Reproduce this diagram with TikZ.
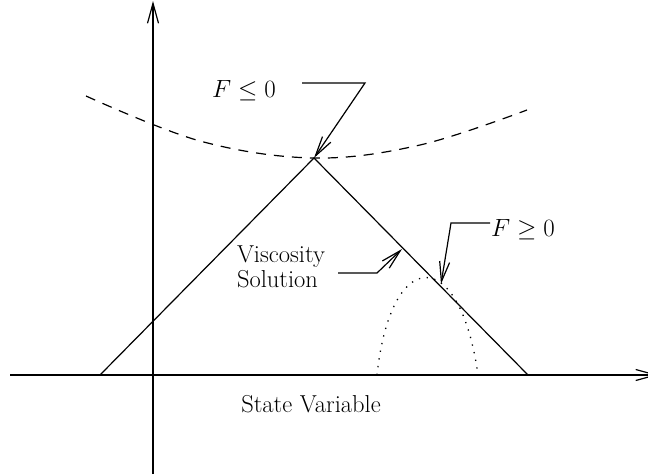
\documentclass[tikz,border=0pt]{standalone}
\usetikzlibrary{arrows.meta}
\begin{document}
\begin{tikzpicture}[x=1pt,y=-1pt,
  every node/.style={inner sep=0pt,outer sep=0pt,font=\fontsize{24.5}{29}\selectfont},
  axisline/.style={line width=1.5pt,-{Straight Barb[length=20pt,width=11pt,line width=1.2pt]}},
  mainline/.style={line width=1.2pt},
  pointer/.style={line width=1.2pt,-{Straight Barb[length=20pt,width=10pt,line width=1.2pt]}},
  dashcurve/.style={line width=1.2pt,dash pattern=on 10pt off 8pt},
  dotcurve/.style={line width=1.3pt,dash pattern=on 1.3pt off 6.5pt}]
\useasboundingbox (0,0) rectangle (648,474);
% axes
\coordinate (ybot) at (153,474);
\coordinate (ytop) at (153,1);
\coordinate (xl) at (10,375);
\coordinate (xr) at (658,375);
\draw[axisline] (ybot) -- (ytop);
\draw[axisline] (xl) -- (xr);
% triangle
\coordinate (tl) at (100,375);
\coordinate (apex) at (314,158);
\coordinate (tr) at (528,375);
\draw[mainline] (tl) -- (apex) -- (tr);
% dashed curve
\draw[dashcurve] plot[smooth,tension=0.6] coordinates {(86,96) (200,141) (314,158) (420,145) (527,110)};
% dotted curve
\coordinate (dl) at (377,375);
\coordinate (dr) at (478,375);
\draw[dotcurve] (dl) .. controls (391,245) and (460,245) .. (dr);
% labels
\node[anchor=base west] (fle) at (212,97) {$F\leq 0$};
\node[anchor=base west] (fge) at (491,236) {$F\geq 0$};
\node[anchor=base west] (vis1) at (237,262) {Viscosity};
\node[anchor=base west] (vis2) at (237,287) {Solution};
\node[anchor=base] (sv) at (311,412) {State Variable};
% pointers
\coordinate (p1a) at (302,83);
\coordinate (p1b) at (365,83);
\draw[pointer] (p1a) -- (p1b) -- (apex);
\coordinate (p2a) at (338,273);
\coordinate (p2b) at (377,273);
\coordinate (p2c) at (402,249);
\draw[pointer] (p2a) -- (p2b) -- (p2c);
\coordinate (p3a) at (490,223);
\coordinate (p3b) at (451,223);
\coordinate (p3c) at (441,284);
\draw[pointer] (p3a) -- (p3b) -- (p3c);
\end{tikzpicture}
\end{document}
